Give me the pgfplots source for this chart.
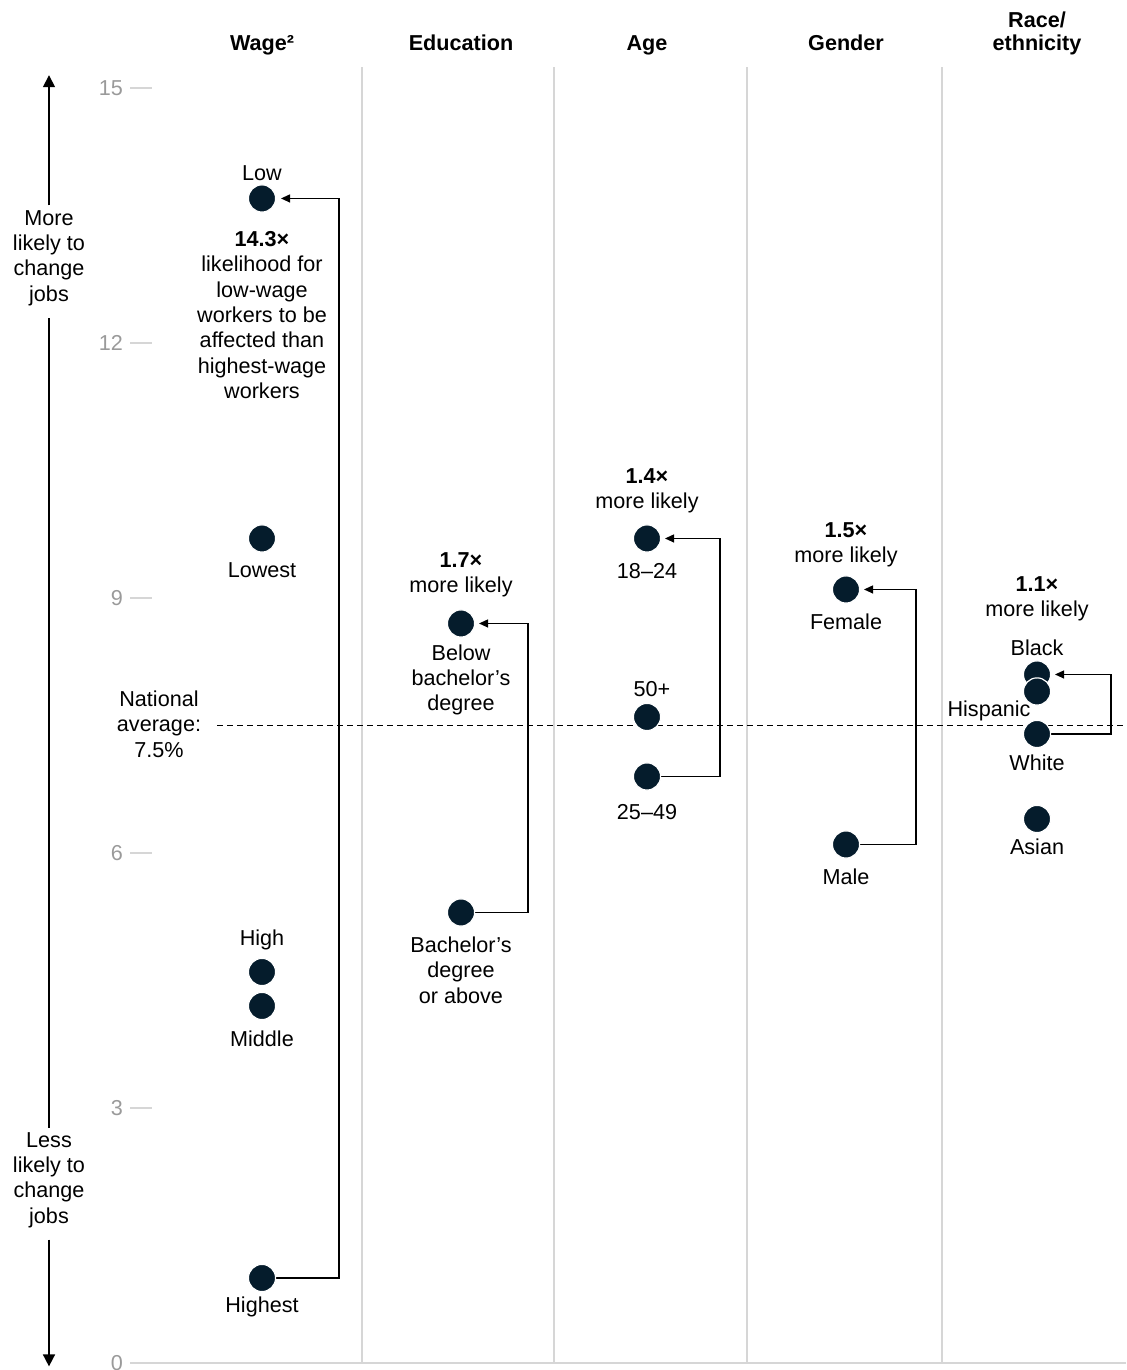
\documentclass[border=0pt]{standalone}
\usepackage{fontspec}
\setmainfont{Liberation Sans}
\usepackage{pgfplots}
\pgfplotsset{compat=1.18}
\usetikzlibrary{arrows.meta}
\definecolor{navy}{HTML}{051C2C}
\definecolor{sep}{HTML}{D6D6D6}
\definecolor{tickgray}{HTML}{9A9A9A}
\begin{document}
\begin{tikzpicture}[font=\fontsize{10.8}{12.7}\selectfont]
\begin{axis}[
 scale only axis, width=498pt, height=648pt,
 xmin=130, xmax=1126, ymin=0, ymax=15.247,
 clip=false,
 axis line style={draw=none},
 xtick={362,554,747,942}, xticklabels={}, xmajorgrids,
 major x grid style={sep, line width=0.8pt},
 x tick style={draw=none},
 ytick={0,3,6,9,12,15}, ytick pos=left, tick align=inside,
 major tick length=11pt,
 y tick style={sep, line width=0.6pt},
 yticklabel style={tickgray, font=\fontsize{10.8}{12}\selectfont},
 /pgf/number format/assume math mode=true,
]
% bottom line
\addplot[sep, line width=0.8pt] coordinates {(130,0) (1126,0)};
% national average
\addplot[black, line width=0.5pt, dash pattern=on 3pt off 2pt] coordinates {(217,7.5) (1126,7.5)};
% brackets
\addplot[black, line width=0.6pt, -{Triangle[length=4.5pt,width=4pt]}] coordinates {(275,1.0) (339,1.0) (339,13.7) (281,13.7)};
\addplot[black, line width=0.6pt, -{Triangle[length=4.5pt,width=4pt]}] coordinates {(474,5.3) (528,5.3) (528,8.7) (479,8.7)};
\addplot[black, line width=0.6pt, -{Triangle[length=4.5pt,width=4pt]}] coordinates {(660,6.9) (720,6.9) (720,9.7) (665,9.7)};
\addplot[black, line width=0.6pt, -{Triangle[length=4.5pt,width=4pt]}] coordinates {(859,6.1) (916,6.1) (916,9.1) (864,9.1)};
\addplot[black, line width=0.6pt, -{Triangle[length=4.5pt,width=4pt]}] coordinates {(1050,7.4) (1111,7.4) (1111,8.1) (1055,8.1)};
% left arrow
\addplot[black, line width=0.8pt, -{Triangle[length=6pt,width=6pt]}] coordinates {(49,13.62) (49,15.15)};
\addplot[black, line width=0.8pt] coordinates {(49,12.29) (49,2.77)};
\addplot[black, line width=0.8pt, -{Triangle[length=6pt,width=6pt]}] coordinates {(49,1.45) (49,-0.04)};
% points
\addplot[only marks, mark=*, mark size=6.8pt, mark options={fill=navy, draw=white, line width=0.6pt}] coordinates {
 (262,13.7) (262,9.7) (262,4.6) (262,4.2) (262,1.0)
 (461,8.7) (461,5.3)
 (647,9.7) (647,7.6) (647,6.9)
 (846,9.1) (846,6.1)
 (1037,8.1) (1037,7.9) (1037,7.4) (1037,6.4)
};
% headers
\node[font=\fontsize{10.8}{12.7}\selectfont\bfseries, anchor=base] at (axis cs:262,15.435) {Wage²};
\node[font=\fontsize{10.8}{12.7}\selectfont\bfseries, anchor=base] at (axis cs:461,15.435) {Education};
\node[font=\fontsize{10.8}{12.7}\selectfont\bfseries, anchor=base] at (axis cs:647,15.435) {Age};
\node[font=\fontsize{10.8}{12.7}\selectfont\bfseries, anchor=base] at (axis cs:846,15.435) {Gender};
\node[font=\fontsize{10.8}{12.7}\selectfont\bfseries, anchor=base] at (axis cs:1037,15.717) {Race/};
\node[font=\fontsize{10.8}{12.7}\selectfont\bfseries, anchor=base] at (axis cs:1037,15.435) {ethnicity};
% left labels
\node[align=center, fill=white, inner sep=1pt] at (axis cs:49,13.0) {More\\likely to\\change\\jobs};
\node[align=center, fill=white, inner sep=1pt] at (axis cs:49,2.153) {Less\\likely to\\change\\jobs};
\node[align=center] at (axis cs:159,7.518) {National\\average:\\7.5\%};
% wage labels
\node at (axis cs:262,14.0) {Low};
\node[align=center] at (axis cs:262,12.329) {{\bfseries 14.3×}\\likelihood for\\low-wage\\workers to be\\affected than\\highest-wage\\workers};
\node at (axis cs:262,9.329) {Lowest};
\node at (axis cs:262,4.976) {High};
\node at (axis cs:262,3.812) {Middle};
\node at (axis cs:262,0.659) {Highest};
% education
\node[align=center] at (axis cs:461,9.271) {{\bfseries 1.7×}\\more likely};
\node[align=center] at (axis cs:461,8.035) {Below\\bachelor’s\\degree};
\node[align=center] at (axis cs:461,4.624) {Bachelor’s\\degree\\or above};
% age
\node[align=center] at (axis cs:647,10.259) {{\bfseries 1.4×}\\more likely};
\node at (axis cs:647,9.318) {18–24};
\node at (axis cs:652,7.929) {50+};
\node at (axis cs:647,6.482) {25–49};
% gender
\node[align=center] at (axis cs:846,9.624) {{\bfseries 1.5×}\\more likely};
\node at (axis cs:846,8.718) {Female};
\node at (axis cs:846,5.718) {Male};
% race
\node[align=center] at (axis cs:1037,8.988) {{\bfseries 1.1×}\\more likely};
\node at (axis cs:1037,8.412) {Black};
\node at (axis cs:989,7.671) {Hispanic};
\node at (axis cs:1037,7.059) {White};
\node at (axis cs:1037,6.071) {Asian};
\coordinate (bbl) at (axis cs:0,-0.0824);
\coordinate (btr) at (axis cs:1126,16.035);
\end{axis}
\pgfresetboundingbox
\path (bbl) rectangle (btr);
\end{tikzpicture}
\end{document}
